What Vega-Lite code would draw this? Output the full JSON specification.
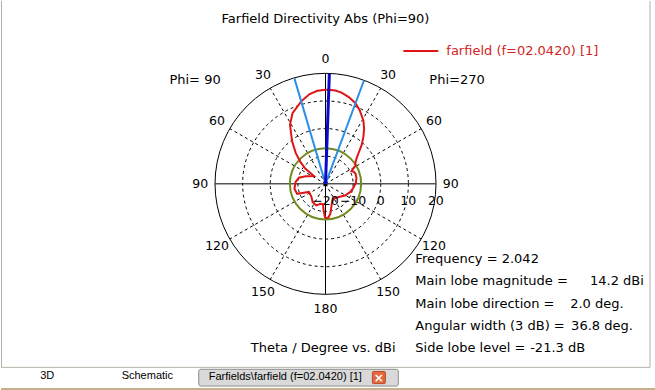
{
  "$schema": "https://vega.github.io/schema/vega-lite/v6.json",
  "width": 655,
  "height": 390,
  "padding": 0,
  "autosize": {"type": "fit", "contains": "padding"},
  "background": "#ffffff",
  "config": {"view": {"stroke": null}, "font": "DejaVu Sans", "text": {"font": "DejaVu Sans", "fontSize": 13}},
  "datasets": {
    "pattern": [
      {"theta": 0, "dB": 14.1}, {"theta": 2, "dB": 14.2}, {"theta": 6, "dB": 14.05}, {"theta": 10, "dB": 13.6},
      {"theta": 15, "dB": 12.6}, {"theta": 20.4, "dB": 11.2}, {"theta": 25, "dB": 9.4}, {"theta": 31, "dB": 6.7},
      {"theta": 35, "dB": 4.4}, {"theta": 39, "dB": 1.8}, {"theta": 43, "dB": -0.8}, {"theta": 47, "dB": -3.6},
      {"theta": 51, "dB": -5.6}, {"theta": 55, "dB": -6.8}, {"theta": 58.6, "dB": -7.3}, {"theta": 61, "dB": -8.4},
      {"theta": 64, "dB": -9.5}, {"theta": 67, "dB": -8.8}, {"theta": 72, "dB": -8.5}, {"theta": 80, "dB": -8.6},
      {"theta": 88, "dB": -9.0}, {"theta": 97, "dB": -9.7}, {"theta": 108, "dB": -10.5}, {"theta": 121, "dB": -11.8},
      {"theta": 135, "dB": -13.2}, {"theta": 151, "dB": -13.9}, {"theta": 160, "dB": -13.0}, {"theta": 166, "dB": -11.3},
      {"theta": 171, "dB": -8.9}, {"theta": 175, "dB": -7.8}, {"theta": 178, "dB": -7.6}, {"theta": 180, "dB": -7.7},
      {"theta": 181, "dB": -7.9}, {"theta": 184, "dB": -10.3}, {"theta": 187, "dB": -12.5}, {"theta": 194, "dB": -12.5},
      {"theta": 203, "dB": -11.5}, {"theta": 215, "dB": -11.9}, {"theta": 228, "dB": -13.1}, {"theta": 244, "dB": -13.3},
      {"theta": 247.5, "dB": -11.5}, {"theta": 250.5, "dB": -9.1}, {"theta": 261, "dB": -8.6}, {"theta": 273, "dB": -9.1},
      {"theta": 283, "dB": -10.1}, {"theta": 291, "dB": -12.3}, {"theta": 304, "dB": -14.9}, {"theta": 305.5, "dB": -13.3},
      {"theta": 307, "dB": -10.9}, {"theta": 311, "dB": -8.0}, {"theta": 316, "dB": -4.5}, {"theta": 322, "dB": -0.3},
      {"theta": 329, "dB": 5.0}, {"theta": 335, "dB": 8.3}, {"theta": 343.6, "dB": 11.2}, {"theta": 350, "dB": 13.1},
      {"theta": 355, "dB": 13.9}, {"theta": 360, "dB": 14.1}
    ],
    "rings": [{"dB": -10}, {"dB": 0}, {"dB": 10}],
    "outer": [{"dB": 20}],
    "sidelobe": [{"dB": -7.1}],
    "spokes": [
      {"theta": 0}, {"theta": 30}, {"theta": 60}, {"theta": 90}, {"theta": 120}, {"theta": 150},
      {"theta": 180}, {"theta": 210}, {"theta": 240}, {"theta": 270}, {"theta": 300}, {"theta": 330}
    ],
    "beams": [
      {"theta": 2, "beam": "main"},
      {"theta": 343.6, "beam": "half-power"},
      {"theta": 20.4, "beam": "half-power"}
    ],
    "angleLabels": [
      {"theta": 0, "label": "0"}, {"theta": 30, "label": "30"}, {"theta": 60, "label": "60"},
      {"theta": 90, "label": "90"}, {"theta": 120, "label": "120"}, {"theta": 150, "label": "150"},
      {"theta": 180, "label": "180"}, {"theta": 210, "label": "150"}, {"theta": 240, "label": "120"},
      {"theta": 270, "label": "90"}, {"theta": 300, "label": "60"}, {"theta": 330, "label": "30"}
    ],
    "radialLabels": [{"dB": -20}, {"dB": -10}, {"dB": 0}, {"dB": 10}, {"dB": 20}],
    "notesLeft": [
      {"text": "Phi=270", "x": 37.65, "y": 37.5},
      {"text": "Frequency = 2.042", "x": 32.58, "y": -27.4},
      {"text": "Main lobe magnitude =", "x": 32.58, "y": -35.4},
      {"text": "Main lobe direction =", "x": 32.58, "y": -43.5},
      {"text": "Angular width (3 dB) =", "x": 32.58, "y": -51.5},
      {"text": "Side lobe level =", "x": 32.58, "y": -59.7},
      {"text": "14.2 dBi", "x": 95.9, "y": -35.4},
      {"text": "2.0 deg.", "x": 88.7, "y": -43.5},
      {"text": "36.8 deg.", "x": 89.05, "y": -51.5},
      {"text": "-21.3 dB", "x": 74.2, "y": -59.7},
      {"text": "Theta / Degree vs. dBi", "x": -27.1, "y": -59.7}
    ],
    "notesRight": [{"text": "Phi= 90", "x": -38.0, "y": 37.5}],
    "title": [{"text": "Farfield Directivity Abs (Phi=90)", "x": 0, "y": 59.9}],
    "legendText": [{"text": "farfield (f=02.0420) [1]", "x": 43.8, "y": 48.25}],
    "legendLine": [{"x": 28.24, "x2": 40.9, "y": 48.25}],
    "frame": [
      {"x": -117.47, "y": 66.35, "x2": -117.47, "y2": -66.6},
      {"x": 117.65, "y": 66.35, "x2": 117.65, "y2": -66.6},
      {"x": -117.47, "y": -66.6, "x2": 117.65, "y2": -66.6}
    ],
    "baseBar": [{"x": -117.65, "x2": 119.46, "y": -74.1, "y2": -74.82}],
    "tab": [{"x": -45.97, "x2": 26.4, "y": -67.3, "y2": -73.4}],
    "closeBox": [{"x": 17.0, "x2": 21.7, "y": -68.1, "y2": -72.5}],
    "closeMark": [{"text": "×", "x": 19.35, "y": -70.35}],
    "tabCenter": [{"text": "3D", "x": -100.9, "y": -69.8}, {"text": "Schematic", "x": -64.6, "y": -69.8}],
    "tabLeft": [{"text": "Farfields\\farfield (f=02.0420) [1]", "x": -42.35, "y": -70.0}]
  },
  "encoding": {
    "x": {"field": "x", "type": "quantitative", "scale": {"domain": [-117.65, 119.46], "nice": false, "zero": false}, "axis": null},
    "y": {"field": "y", "type": "quantitative", "scale": {"domain": [-74.82, 66.35], "nice": false, "zero": false}, "axis": null}
  },
  "layer": [
    {
      "data": {"name": "baseBar"},
      "mark": {"type": "rect", "color": "#c4b28e"},
      "encoding": {"x2": {"field": "x2"}, "y2": {"field": "y2"}}
    },
    {
      "data": {"name": "frame"},
      "mark": {"type": "rule", "color": "#b4b0a8", "strokeWidth": 1},
      "encoding": {"x2": {"field": "x2"}, "y2": {"field": "y2"}}
    },
    {
      "data": {"name": "tab"},
      "mark": {"type": "rect", "fill": "#d9d9d9", "stroke": "#8c8c8c", "strokeWidth": 1, "cornerRadius": 2},
      "encoding": {"x2": {"field": "x2"}, "y2": {"field": "y2"}}
    },
    {
      "data": {"name": "closeBox"},
      "mark": {"type": "rect", "fill": "#e4683e", "stroke": "#b44a28", "strokeWidth": 1, "cornerRadius": 1},
      "encoding": {"x2": {"field": "x2"}, "y2": {"field": "y2"}}
    },
    {
      "data": {"name": "closeMark"},
      "mark": {"type": "text", "color": "#ffffff", "fontSize": 12, "fontWeight": "bold", "align": "center", "baseline": "middle"},
      "encoding": {"text": {"field": "text"}}
    },
    {
      "data": {"name": "tabCenter"},
      "mark": {"type": "text", "font": "Liberation Sans", "fontSize": 11, "color": "#000000", "align": "center", "baseline": "middle"},
      "encoding": {"text": {"field": "text"}}
    },
    {
      "data": {"name": "tabLeft"},
      "mark": {"type": "text", "font": "Liberation Sans", "fontSize": 11, "color": "#000000", "align": "left", "baseline": "middle"},
      "encoding": {"text": {"field": "text"}}
    },
    {
      "data": {"name": "rings"},
      "transform": [{"calculate": "datum.dB + 20", "as": "r"}, {"calculate": "0", "as": "x"}, {"calculate": "0", "as": "y"}],
      "mark": {"type": "point", "shape": "circle", "filled": false, "color": "#000000", "strokeWidth": 1, "strokeDash": [3, 3], "opacity": 1},
      "encoding": {"size": {"field": "r", "type": "quantitative", "scale": {"type": "pow", "exponent": 2, "domain": [0, 40], "range": [0, 48841], "zero": true}, "legend": null}}
    },
    {
      "data": {"name": "outer"},
      "transform": [{"calculate": "datum.dB + 20", "as": "r"}, {"calculate": "0", "as": "x"}, {"calculate": "0", "as": "y"}],
      "mark": {"type": "point", "shape": "circle", "filled": false, "color": "#000000", "strokeWidth": 1, "opacity": 1},
      "encoding": {"size": {"field": "r", "type": "quantitative", "scale": {"type": "pow", "exponent": 2, "domain": [0, 40], "range": [0, 48841], "zero": true}, "legend": null}}
    },
    {
      "data": {"name": "spokes"},
      "transform": [
        {"filter": "datum.theta % 90 != 0"},
        {"calculate": "0", "as": "x"}, {"calculate": "0", "as": "y"},
        {"calculate": "40 * sin(datum.theta * PI / 180)", "as": "x2"},
        {"calculate": "40 * cos(datum.theta * PI / 180)", "as": "y2"}
      ],
      "mark": {"type": "rule", "color": "#000000", "strokeWidth": 1, "strokeDash": [3, 3]},
      "encoding": {"x2": {"field": "x2"}, "y2": {"field": "y2"}}
    },
    {
      "data": {"name": "spokes"},
      "transform": [
        {"filter": "datum.theta % 90 == 0"},
        {"calculate": "0", "as": "x"}, {"calculate": "0", "as": "y"},
        {"calculate": "40 * sin(datum.theta * PI / 180)", "as": "x2"},
        {"calculate": "40 * cos(datum.theta * PI / 180)", "as": "y2"}
      ],
      "mark": {"type": "rule", "color": "#000000", "strokeWidth": 1},
      "encoding": {"x2": {"field": "x2"}, "y2": {"field": "y2"}}
    },
    {
      "data": {"name": "sidelobe"},
      "transform": [{"calculate": "datum.dB + 20", "as": "r"}, {"calculate": "0", "as": "x"}, {"calculate": "0", "as": "y"}],
      "mark": {"type": "point", "shape": "circle", "filled": false, "color": "#6f8c1f", "strokeWidth": 2, "opacity": 1},
      "encoding": {"size": {"field": "r", "type": "quantitative", "scale": {"type": "pow", "exponent": 2, "domain": [0, 40], "range": [0, 48841], "zero": true}, "legend": null}}
    },
    {
      "data": {"name": "pattern"},
      "transform": [
        {"calculate": "datum.dB + 20", "as": "r"},
        {"calculate": "datum.r * sin(datum.theta * PI / 180)", "as": "x"},
        {"calculate": "datum.r * cos(datum.theta * PI / 180)", "as": "y"}
      ],
      "mark": {"type": "line", "color": "#e01414", "strokeWidth": 2},
      "encoding": {"order": {"field": "theta", "type": "quantitative"}}
    },
    {
      "data": {"name": "beams"},
      "transform": [
        {"filter": "datum.beam == 'half-power'"},
        {"calculate": "0", "as": "x"}, {"calculate": "0", "as": "y"},
        {"calculate": "40 * sin(datum.theta * PI / 180)", "as": "x2"},
        {"calculate": "40 * cos(datum.theta * PI / 180)", "as": "y2"}
      ],
      "mark": {"type": "rule", "color": "#2b8fe6", "strokeWidth": 2},
      "encoding": {"x2": {"field": "x2"}, "y2": {"field": "y2"}}
    },
    {
      "data": {"name": "beams"},
      "transform": [
        {"filter": "datum.beam == 'main'"},
        {"calculate": "0", "as": "x"}, {"calculate": "0", "as": "y"},
        {"calculate": "40 * sin(datum.theta * PI / 180)", "as": "x2"},
        {"calculate": "40 * cos(datum.theta * PI / 180)", "as": "y2"}
      ],
      "mark": {"type": "rule", "color": "#0a0acc", "strokeWidth": 3},
      "encoding": {"x2": {"field": "x2"}, "y2": {"field": "y2"}}
    },
    {
      "data": {"name": "angleLabels"},
      "transform": [
        {"calculate": "45.4 * sin(datum.theta * PI / 180)", "as": "x"},
        {"calculate": "45.4 * cos(datum.theta * PI / 180)", "as": "y"}
      ],
      "mark": {"type": "text", "fontSize": 12.5, "color": "#000000", "align": "center", "baseline": "middle"},
      "encoding": {"text": {"field": "label"}}
    },
    {
      "data": {"name": "radialLabels"},
      "transform": [{"calculate": "datum.dB + 20", "as": "x"}, {"calculate": "-6.05", "as": "y"}],
      "mark": {"type": "text", "fontSize": 12.5, "color": "#000000", "align": "center", "baseline": "middle"},
      "encoding": {"text": {"field": "dB", "type": "quantitative"}}
    },
    {
      "data": {"name": "legendLine"},
      "mark": {"type": "rule", "color": "#e01414", "strokeWidth": 2},
      "encoding": {"x2": {"field": "x2"}}
    },
    {
      "data": {"name": "legendText"},
      "mark": {"type": "text", "color": "#d42424", "align": "left", "baseline": "middle"},
      "encoding": {"text": {"field": "text"}}
    },
    {
      "data": {"name": "title"},
      "mark": {"type": "text", "color": "#000000", "align": "center", "baseline": "middle"},
      "encoding": {"text": {"field": "text"}}
    },
    {
      "data": {"name": "notesLeft"},
      "mark": {"type": "text", "color": "#000000", "align": "left", "baseline": "middle"},
      "encoding": {"text": {"field": "text"}}
    },
    {
      "data": {"name": "notesRight"},
      "mark": {"type": "text", "color": "#000000", "align": "right", "baseline": "middle"},
      "encoding": {"text": {"field": "text"}}
    }
  ]
}
